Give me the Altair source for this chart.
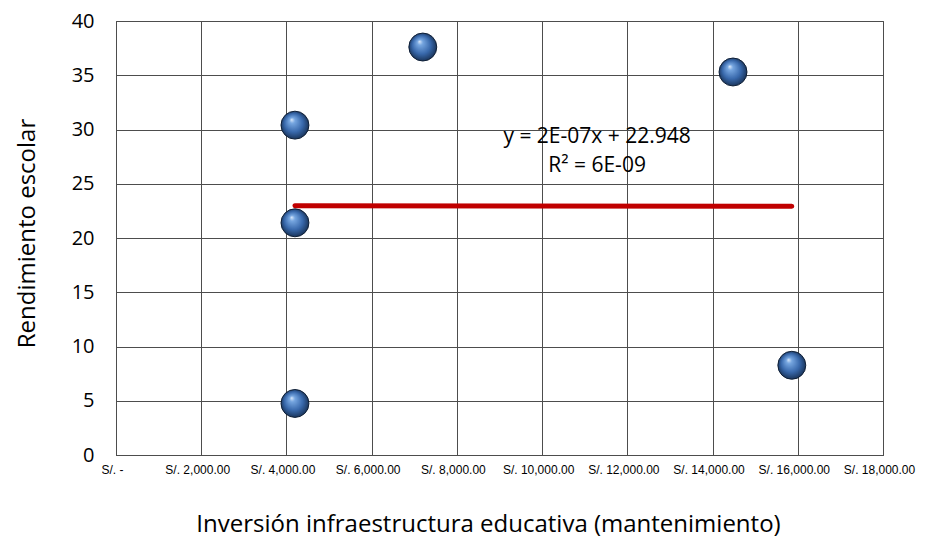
import altair as alt
import pandas as pd

# Data
inversion = [4200, 7200, 4200, 4200, 14480, 15860]
rendimiento = [30.4, 37.6, 21.4, 4.75, 35.3, 8.27]

x_ticks = [0, 2000, 4000, 6000, 8000, 10000, 12000, 14000, 16000, 18000]
y_ticks = [0, 5, 10, 15, 20, 25, 30, 35, 40]

ann_text = ["y = 2E-07x + 22.948", "R² = 6E-09"]
ann_x = [11290, 11290]
ann_y = [29.3, 26.6]

df = pd.DataFrame({"x": inversion, "y": rendimiento})
ann = pd.DataFrame({"t": ann_text, "x": ann_x, "y": ann_y})

xscale = alt.Scale(domain=[0, 18000], nice=False, zero=False)
yscale = alt.Scale(domain=[0, 40], nice=False)

x_enc = alt.X(
    "x:Q",
    scale=xscale,
    axis=alt.Axis(
        values=x_ticks,
        title="Inversión infraestructura educativa (mantenimiento)",
        labelExpr="datum.value == 0 ? 'S/. -' : 'S/. ' + format(datum.value, ',.2f')",
        labelFont="Liberation Sans",
        labelFontSize=12,
        labelColor="#000000",
        labelPadding=9,
        labelOffset=-4,
        labelOverlap=False,
        labelFlush=False,
        ticks=False,
        domainColor="#4d4d4d",
        gridColor="#4d4d4d",
        gridWidth=1,
        titleFont="Open Sans",
        titleFontSize=24,
        titleFontWeight="normal",
        titleColor="#000000",
        titleX=372,
        titleY=76,
        titleAlign="center",
        titleBaseline="alphabetic",
    ),
)
y_enc = alt.Y(
    "y:Q",
    scale=yscale,
    axis=alt.Axis(
        values=y_ticks,
        title="Rendimiento escolar",
        labelFont="Open Sans",
        labelFontSize=20,
        labelColor="#000000",
        labelPadding=22,
        ticks=False,
        domainColor="#4d4d4d",
        gridColor="#4d4d4d",
        gridWidth=1,
        titleFont="Open Sans",
        titleFontSize=24,
        titleFontWeight="normal",
        titleColor="#000000",
        titleAngle=-90,
        titleX=-89,
        titleY=212,
        titleAlign="center",
        titleBaseline="middle",
    ),
)

sphere_fill = {
    "gradient": "radial",
    "x1": 0.38, "y1": 0.3, "r1": 0.0,
    "x2": 0.5, "y2": 0.5, "r2": 0.55,
    "stops": [
        {"offset": 0.0, "color": "#dbe9fb"},
        {"offset": 0.18, "color": "#76a6e0"},
        {"offset": 0.6, "color": "#3868ab"},
        {"offset": 0.9, "color": "#1d3a63"},
        {"offset": 1.0, "color": "#10223c"},
    ],
}

points = alt.Chart(df).mark_point(
    shape="circle", filled=True, size=780, fill=sphere_fill, opacity=1,
    stroke="#0f1f36", strokeWidth=1,
).encode(x=x_enc, y=y_enc)

trend = alt.Chart(df).transform_regression("x", "y").mark_line(
    color="#c00000", strokeWidth=5, strokeCap="round"
).encode(x=alt.X("x:Q", scale=xscale), y=alt.Y("y:Q", scale=yscale))

text = alt.Chart(ann).mark_text(
    font="Open Sans", fontSize=21, color="#000000", align="center", baseline="middle"
).encode(x=alt.X("x:Q", scale=xscale), y=alt.Y("y:Q", scale=yscale), text="t:N")

chart = alt.layer(trend, points, text).properties(
    width=767,
    height=434,
    autosize=alt.AutoSizeParams(type="none"),
    padding={"left": 108, "top": 13, "right": 38, "bottom": 84},
    background="#ffffff",
).configure_view(stroke="#4d4d4d", strokeWidth=1)

chart.save("out.html", embed_options={"renderer": "svg", "actions": False})
